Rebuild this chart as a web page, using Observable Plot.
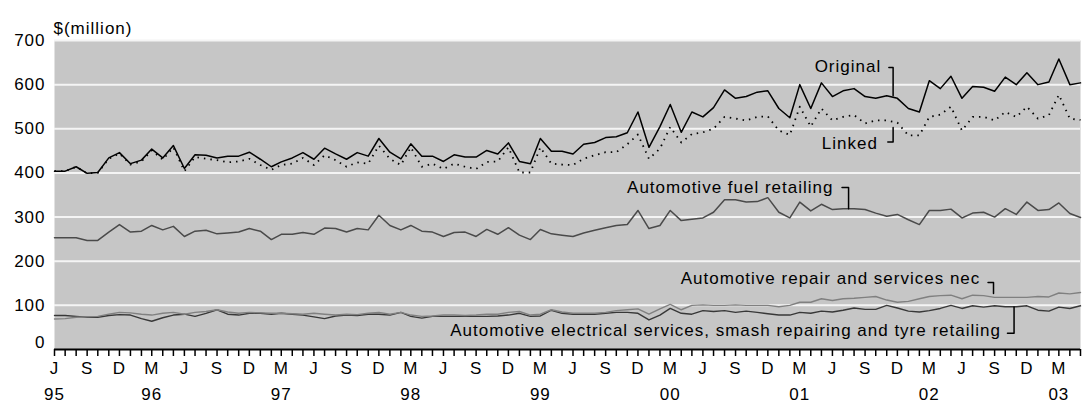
<!DOCTYPE html>
<html>
<head>
<meta charset="utf-8">
<script src="https://cdn.jsdelivr.net/npm/d3@7"></script>
<script src="https://cdn.jsdelivr.net/npm/@observablehq/plot@0.6"></script>
<style>
  html, body { margin: 0; padding: 0; background: #fff; }
  #chart { width: 1083px; height: 409px; }
</style>
</head>
<body>
<div id="chart"></div>
<script>
// ---- Data: monthly, June 1995 to May 2003, $(million) ----
const firstMonth = new Date(Date.UTC(1995, 5, 1));
const lastMonth = new Date(Date.UTC(2003, 4, 1));

const original = [
  404,404,414,399,401,434,446,421,429,454,434,462,410,441,440,434,438,438,447,431,414,425,434,446,431,456,443,431,446,
  438,478,447,432,466,438,438,426,441,436,436,451,443,468,426,421,478,449,449,443,465,469,480,482,491,538,458,505,555,492,538,527,548,
  588,569,573,583,586,546,525,600,546,604,573,586,591,573,569,575,569,546,538,609,591,619,569,596,594,585,617,600,627,600,606,658,600,604
];
const linked = [
  404,404,414,399,400,432,444,419,426,451,430,458,404,436,
  432,429,424,426,432,418,407,418,421,434,418,440,429,414,424,
  421,462,432,418,458,414,421,409,421,414,409,425,426,458,401,401,458,421,419,418,432,
  440,447,447,465,487,432,455,504,469,488,492,500,
  527,523,519,527,528,496,486,550,505,546,519,527,531,512,519,519,514,485,485,527,532,550,496,527,527,519,538,527,550,523,531,577,523,520
];
const fuelRetailing = [
  253,253,253,247,247,266,283,266,268,281,271,279,256,268,270,262,264,266,274,268,249,261,261,265,261,275,274,266,274,
  271,304,281,271,281,268,266,256,265,266,256,272,261,276,259,249,272,262,259,256,264,270,276,281,283,315,274,281,315,292,295,298,311,
  339,339,334,335,344,311,298,334,314,329,317,319,319,317,309,302,306,294,283,315,315,318,298,309,311,300,319,306,334,315,317,332,308,299
];
const repairServices = [
  69,70,73,74,75,80,84,83,80,78,82,84,80,84,86,90,85,82,84,83,82,82,81,80,82,80,78,80,79,
  82,84,80,84,78,75,76,78,78,77,78,80,80,84,86,78,80,90,85,82,82,82,84,88,90,92,80,92,102,90,100,101,100,
  100,101,100,100,100,97,100,107,107,115,111,115,116,118,120,112,107,109,115,120,122,123,115,123,122,118,118,118,118,120,119,128,126,129
];
const electricalSmashTyre = [
  77,77,75,73,73,77,79,78,70,64,72,78,80,75,82,90,80,78,82,82,80,82,80,78,74,70,76,78,77,
  80,80,78,84,75,71,75,75,75,75,75,75,76,78,82,75,76,89,82,80,80,80,82,84,84,82,67,78,93,82,80,88,86,
  88,84,87,84,81,78,78,84,82,87,85,89,94,91,91,100,94,87,85,88,93,100,93,99,96,99,97,97,99,89,87,96,93,99
];

// ---- Tick labels ----
const yTicks = [0, 100, 200, 300, 400, 500, 600, 700];
const monthLetters = {5: "J", 8: "S", 11: "D", 2: "M"}; // by UTC month number
const yearLabels = ["95","96","97","98","99","00","01","02","03"];
const yearLabelMonths = ["1995-06","1996-03","1997-03","1998-03","1999-03","2000-03","2001-03","2002-03","2003-03"];
const unitLabel = "$(million)";

// ---- Annotations (text, month offset from June 1995, value) ----
const labelNames = ["Original", "Linked", "Automotive fuel retailing", "Automotive repair and services nec",
  "Automotive electrical services, smash repairing and tyre retailing"];
const labelMonth = [76.5, 76.2, 72.1, 85.7, 87.6];
const labelValue = [641, 467, 368, 161, 43];
// bracket leaders: [month, value] polylines
const leaders = [
  [[77.2, 639], [77.6, 639], [77.6, 575]],
  [[77.6, 503], [77.6, 470], [77.1, 470]],
  [[72.9, 367], [73.5, 367], [73.5, 319]],
  [[86.4, 152], [86.9, 152], [86.9, 127]],
  [[88.8, 96], [88.8, 37], [88.2, 37]]
];

// ---- Build tables ----
const months = d3.utcMonth.range(firstMonth, d3.utcMonth.offset(lastMonth, 1));
const toRows = (arr, name) => arr.map((v, i) => ({date: months[i], value: v, series: name}));
const monthAt = (f) => {
  const a = d3.utcMonth.offset(firstMonth, Math.floor(f));
  const b = d3.utcMonth.offset(a, 1);
  return new Date(+a + (f - Math.floor(f)) * (b - a));
};
const labels = labelNames.map((t, k) => ({text: t, date: monthAt(labelMonth[k]), value: labelValue[k]}));
const leaderRows = leaders.flatMap((pts, k) => pts.map(([m, v]) => ({k, date: monthAt(m), value: v})));
const monthTicks = months.filter(d => monthLetters[d.getUTCMonth()] !== undefined);
const yearTicks = yearLabelMonths.map(s => d3.utcParse("%Y-%m")(s));

const font = "'Liberation Sans', Arial, Helvetica, sans-serif";

const chart = Plot.plot({
  width: 1083,
  height: 409,
  marginLeft: 54,
  marginRight: 3,
  marginTop: 40,
  marginBottom: 60,
  style: {fontFamily: font, fontSize: "17px", letterSpacing: "1px", background: "#fff", color: "#000", overflow: "visible"},
  x: {type: "utc", domain: [firstMonth, lastMonth]},
  y: {domain: [0, 700]},
  marks: [
    Plot.frame({fill: "#c6c6c6", stroke: null}),
    Plot.ruleY(yTicks.filter(v => v > 0), {stroke: "#f4f4f4", strokeWidth: 2}),
    Plot.line(toRows(electricalSmashTyre, "elec"), {x: "date", y: "value", stroke: "#383838", strokeWidth: 1.4}),
    Plot.line(toRows(repairServices, "repair"), {x: "date", y: "value", stroke: "#808080", strokeWidth: 1.4}),
    Plot.line(toRows(fuelRetailing, "fuel"), {x: "date", y: "value", stroke: "#4a4a4a", strokeWidth: 1.5}),
    Plot.line(toRows(linked, "linked"), {x: "date", y: "value", stroke: "#000", strokeWidth: 1.8, strokeDasharray: "1.5,5", strokeLinecap: "butt"}),
    Plot.line(toRows(original, "original"), {x: "date", y: "value", stroke: "#000", strokeWidth: 1.5}),
    Plot.line(leaderRows, {x: "date", y: "value", z: "k", stroke: "#000", strokeWidth: 1.5}),
    Plot.text(labels, {x: "date", y: "value", text: "text", textAnchor: "end", fill: "#000"}),
    Plot.ruleY([0], {stroke: "#000", strokeWidth: 2}),
    Plot.axisX({ticks: months, tickSize: 7, tickFormat: () => "", strokeWidth: 1.5, stroke: "#000"}),
    Plot.text(monthTicks, {x: d => d, text: d => monthLetters[d.getUTCMonth()], frameAnchor: "bottom", dy: 24, fill: "#000"}),
    Plot.text(yearTicks, {x: d => d, text: (d, i) => yearLabels[i], frameAnchor: "bottom", dy: 50, fill: "#000"}),
    Plot.axisY({ticks: yTicks.filter(v => v > 0), tickSize: 0, tickPadding: 9, label: null, fill: "#000"}),
    Plot.axisY({ticks: [0], tickSize: 0, tickPadding: 9, label: null, dy: -7, fill: "#000"}),
    Plot.text([unitLabel], {frameAnchor: "top-left", text: d => d, textAnchor: "start", dy: -19, dx: -1, fill: "#000"})
  ]
});
document.getElementById("chart").appendChild(chart);
</script>
</body>
</html>
